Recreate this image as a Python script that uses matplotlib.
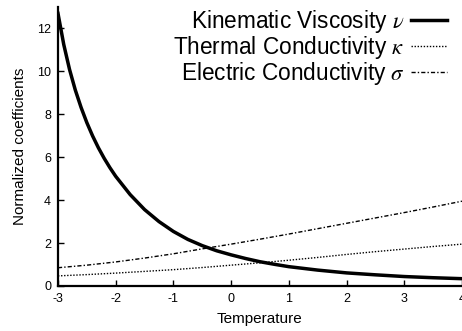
import numpy as np
import matplotlib
matplotlib.use("Agg")
import matplotlib.pyplot as plt

plt.rcParams['font.family'] = ['Liberation Sans', 'DejaVu Sans']
plt.rcParams['mathtext.fontset'] = 'stix'
plt.rcParams['axes.unicode_minus'] = False

# values
temp_nu = [-3.0, -2.9, -2.8, -2.7, -2.6, -2.5, -2.4, -2.3, -2.2, -2.1, -2.0,
           -1.75, -1.5, -1.25, -1.0, -0.75, -0.5, -0.25, 0.0, 0.25, 0.5, 0.75,
           1.0, 1.5, 2.0, 2.5, 3.0, 3.5, 4.0]
viscosity = [12.7, 11.25, 10.09, 9.13, 8.32, 7.61, 6.99, 6.44, 5.95, 5.51, 5.11,
             4.26, 3.56, 3.0, 2.54, 2.17, 1.88, 1.64, 1.45, 1.28, 1.13, 1.01,
             0.9, 0.74, 0.61, 0.52, 0.44, 0.385, 0.34]

temp = [-3.0, -2.5, -2.0, -1.5, -1.0, -0.5, 0.0, 0.5, 1.0, 1.5, 2.0, 2.5, 3.0, 3.5, 4.0]
thermal = [0.47, 0.53, 0.6, 0.68, 0.76, 0.86, 0.97, 1.08, 1.2, 1.33, 1.47, 1.6, 1.72, 1.84, 1.95]
electric = [0.85, 0.97, 1.12, 1.3, 1.5, 1.73, 1.95, 2.18, 2.42, 2.67, 2.92, 3.17, 3.42, 3.68, 3.95]

labels = [r"Kinematic Viscosity $\nu$", r"Thermal Conductivity $\kappa$",
          r"Electric Conductivity $\sigma$"]

fig = plt.figure(figsize=(4.62, 3.31), dpi=100)
ax = fig.add_axes([0.1255, 0.136, 0.8745, 0.843])

ax.plot(temp_nu, viscosity, color='black', lw=2.5, label=labels[0])
ax.plot(temp, thermal, color='black', lw=1.0, ls=(0, (1, 1.2)), label=labels[1])
ax.plot(temp, electric, color='black', lw=1.0, ls=(0, (3, 1.5, 1, 1.5)), label=labels[2])

ax.set_xlim(-3, 4)
ax.set_ylim(0, 13)
ax.set_xticks(range(-3, 5))
ax.set_yticks(range(0, 13, 2))
ax.tick_params(direction='in', length=4, width=1, labelsize=9, pad=5)
for s in ['top', 'right']:
    ax.spines[s].set_visible(False)
for s in ['left', 'bottom']:
    ax.spines[s].set_linewidth(1.6)

ax.set_xlabel("Temperature", fontsize=11, labelpad=5)
ax.set_ylabel("Normalized coefficients", fontsize=11, labelpad=7)

ax.legend(loc='upper right', bbox_to_anchor=(0.963, 0.995), frameon=False,
          markerfirst=False, fontsize=16.3, handlelength=1.6, handletextpad=0.27,
          labelspacing=-0.05, borderpad=0, borderaxespad=0)

fig.savefig("out.png", dpi=100)
